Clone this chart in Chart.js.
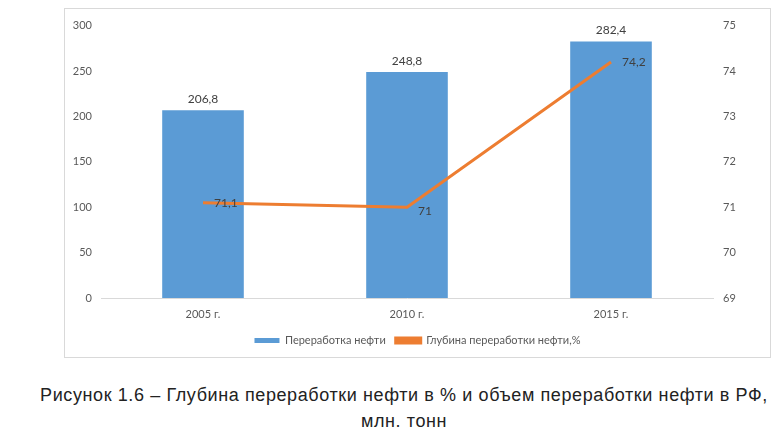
<!DOCTYPE html>
<html>
<head>
<meta charset="utf-8">
<script src="https://cdn.jsdelivr.net/npm/chart.js@4"></script>
<style>
  html, body { margin: 0; padding: 0; background: #fff; }
  body { width: 777px; height: 445px; position: relative; overflow: hidden; }
  #box { position: absolute; left: 64px; top: 8px; width: 705px; height: 348px; border: 1px solid #d9d9d9; box-sizing: content-box; }
  #caption { position: absolute; left: 0; top: 382px; width: 808px; text-align: center; font-family: "Liberation Sans", Arial, sans-serif; font-size: 18px; letter-spacing: 0.6px; line-height: 26px; color: #222; }
</style>
</head>
<body>
<div id="box"><canvas id="c"></canvas></div>
<div id="caption">Рисунок 1.6 – Глубина переработки нефти в % и объем переработки нефти в РФ,<br>млн. тонн</div>
<script>
const categories = ["2005 г.", "2010 г.", "2015 г."];
const volumeValues = [206.8, 248.8, 282.4];
const depthValues = [71.1, 71, 74.2];
const volumeLabels = ["206,8", "248,8", "282,4"];
const depthLabels = ["71,1", "71", "74,2"];
const seriesNames = ["Переработка нефти", "Глубина переработки нефти,%"];

const FONT = "Lato, 'Open Sans', sans-serif";

const labelPlugin = {
  id: 'valueLabels',
  afterDatasetsDraw(chart) {
    const ctx = chart.ctx;
    ctx.save();
    ctx.font = "12px " + FONT;
    ctx.fillStyle = '#404040';
    const barMeta = chart.getDatasetMeta(1);
    barMeta.data.forEach((el, i) => {
      ctx.textAlign = 'center';
      ctx.textBaseline = 'middle';
      ctx.fillText(volumeLabels[i], el.x, el.y - 11);
    });
    const lineMeta = chart.getDatasetMeta(0);
    lineMeta.data.forEach((el, i) => {
      ctx.textAlign = 'left';
      ctx.textBaseline = 'middle';
      ctx.fillText(depthLabels[i], el.x + 11, el.y + (i === 1 ? 4 : 0));
    });
    ctx.restore();
  }
};

new Chart(document.getElementById('c'), {
  data: {
    labels: categories,
    datasets: [
      {
        type: 'line',
        label: seriesNames[1],
        data: depthValues,
        yAxisID: 'y1',
        borderColor: '#ED7D31',
        backgroundColor: '#ED7D31',
        borderWidth: 3,
        pointRadius: 0,
        tension: 0,
        order: 0
      },
      {
        type: 'bar',
        label: seriesNames[0],
        data: volumeValues,
        yAxisID: 'y',
        backgroundColor: '#5B9BD5',
        borderWidth: 0,
        barPercentage: 0.4,
        categoryPercentage: 1.0,
        order: 1
      }
    ]
  },
  options: {
    responsive: true,
    maintainAspectRatio: false,
    animation: false,
    layout: { padding: { top: 15, left: 0, right: 0, bottom: 1 } },
    plugins: {
      legend: {
        position: 'bottom',
        reverse: true,
        labels: {
          font: { family: FONT, size: 11 },
          color: '#595959',
          boxWidth: 25,
          boxHeight: 5,
          padding: 10
        }
      },
      tooltip: { enabled: false }
    },
    scales: {
      x: {
        grid: { display: false, drawTicks: false },
        border: { display: true, color: '#d9d9d9', width: 1 },
        ticks: { font: { family: FONT, size: 11 }, color: '#595959', padding: 10 },
        afterFit(s) { s.height = 27; }
      },
      y: {
        position: 'left',
        min: 0, max: 300,
        grid: { display: false, drawTicks: false },
        border: { display: false },
        ticks: { stepSize: 50, font: { family: FONT, size: 11 }, color: '#595959', padding: 9 },
        afterFit(s) { s.width = 36; }
      },
      y1: {
        position: 'right',
        min: 69, max: 75,
        grid: { display: false, drawTicks: false },
        border: { display: false },
        ticks: { stepSize: 1, font: { family: FONT, size: 11 }, color: '#595959', padding: 10 },
        afterFit(s) { s.width = 57; }
      }
    }
  },
  plugins: [labelPlugin]
});
</script>
</body>
</html>
